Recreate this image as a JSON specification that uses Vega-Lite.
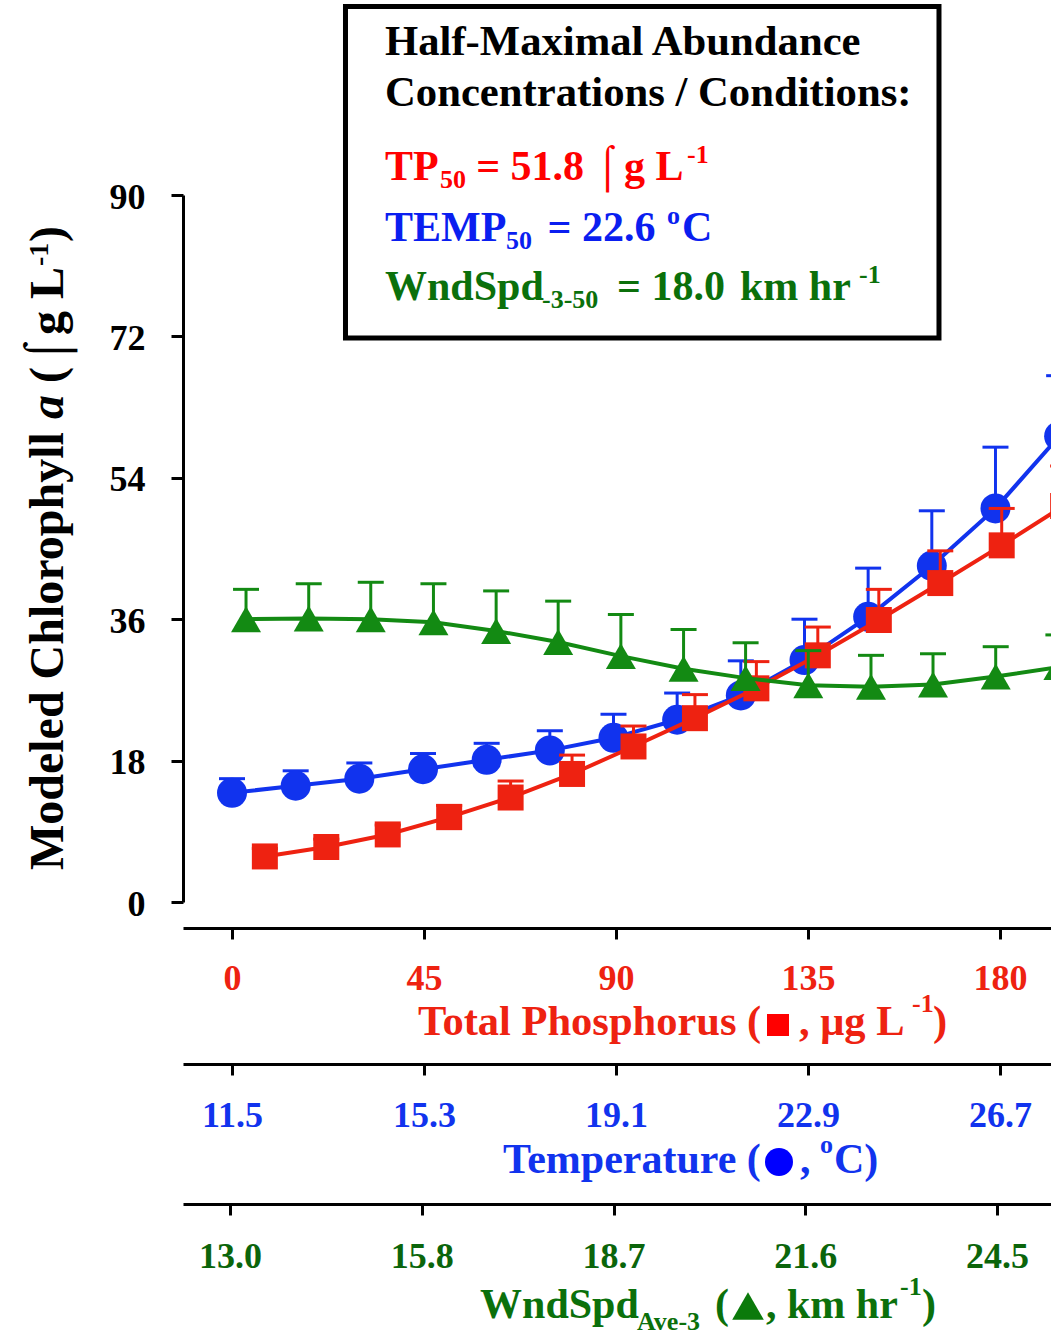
{
  "$schema": "https://vega.github.io/schema/vega-lite/v6.json",
  "width": 868,
  "height": 707,
  "autosize": {"type": "none"},
  "padding": {"left": 183, "top": 195, "right": 0, "bottom": 438},
  "background": "white",
  "config": {
    "view": {"stroke": null},
    "axis": {
      "grid": false,
      "domainColor": "black",
      "domainWidth": 3,
      "tickColor": "black",
      "tickWidth": 3,
      "labelFont": "Liberation Serif",
      "labelFontWeight": "bold",
      "labelFontSize": 36,
      "labelFlush": false,
      "labelOverlap": false
    },
    "text": {"font": "Liberation Serif", "fontWeight": "bold", "align": "left", "baseline": "alphabetic"}
  },
  "resolve": {"scale": {"x": "independent"}, "axis": {"x": "independent"}},
  "layer": [
    {
      "data": {"values": [
        {"temp": 11.50, "chl": 13.9, "upper": 15.7},
        {"temp": 12.76, "chl": 14.8, "upper": 16.7},
        {"temp": 14.02, "chl": 15.7, "upper": 17.7},
        {"temp": 15.28, "chl": 16.9, "upper": 18.9},
        {"temp": 16.54, "chl": 18.1, "upper": 20.2},
        {"temp": 17.79, "chl": 19.3, "upper": 21.8},
        {"temp": 19.05, "chl": 20.9, "upper": 23.9},
        {"temp": 20.31, "chl": 23.2, "upper": 26.6},
        {"temp": 21.57, "chl": 26.3, "upper": 30.7},
        {"temp": 22.83, "chl": 30.8, "upper": 36.0},
        {"temp": 24.09, "chl": 36.3, "upper": 42.5},
        {"temp": 25.35, "chl": 42.8, "upper": 49.8},
        {"temp": 26.61, "chl": 50.1, "upper": 57.9},
        {"temp": 27.87, "chl": 59.3, "upper": 67.0}
      ]},
      "layer": [
        {
          "mark": {"type": "line", "color": "#1133EE", "strokeWidth": 4, "clip": true},
          "encoding": {
            "x": {"field": "temp", "type": "quantitative", "title": null,
              "scale": {"domain": [10.530, 27.709], "nice": false, "zero": false},
              "axis": {"title": null, "orient": "bottom", "offset": 162, "values": [11.5, 15.3, 19.1, 22.9, 26.7], "format": ".1f",
                "labelColor": "#1133EE", "tickSize": 11, "labelPadding": 23}},
            "y": {"field": "chl", "type": "quantitative", "title": null}
          }
        },
        {
          "mark": {"type": "rule", "color": "#1133EE", "strokeWidth": 3, "clip": true},
          "encoding": {
            "x": {"field": "temp", "type": "quantitative", "title": null},
            "y": {"field": "chl", "type": "quantitative", "title": null},
            "y2": {"field": "upper"}
          }
        },
        {
          "mark": {"type": "tick", "orient": "horizontal", "color": "#1133EE", "size": 26, "thickness": 3, "clip": true, "opacity": 1},
          "encoding": {
            "x": {"field": "temp", "type": "quantitative", "title": null},
            "y": {"field": "upper", "type": "quantitative", "title": null}
          }
        },
        {
          "mark": {"type": "point", "shape": "circle", "filled": true, "size": 900, "color": "#1133EE", "opacity": 1, "clip": true},
          "encoding": {
            "x": {"field": "temp", "type": "quantitative", "title": null},
            "y": {"field": "chl", "type": "quantitative", "title": null}
          }
        }
      ]
    },
    {
      "data": {"values": [
        {"tp": 7.7, "chl": 5.8, "upper": 6.8},
        {"tp": 22.1, "chl": 7.0, "upper": 8.0},
        {"tp": 36.5, "chl": 8.6, "upper": 9.8},
        {"tp": 50.9, "chl": 10.8, "upper": 12.3},
        {"tp": 65.3, "chl": 13.3, "upper": 15.4},
        {"tp": 79.7, "chl": 16.3, "upper": 18.7},
        {"tp": 94.1, "chl": 19.8, "upper": 22.4},
        {"tp": 108.5, "chl": 23.4, "upper": 26.4},
        {"tp": 122.9, "chl": 27.2, "upper": 30.6},
        {"tp": 137.3, "chl": 31.4, "upper": 35.0},
        {"tp": 151.6, "chl": 35.9, "upper": 39.8},
        {"tp": 166.0, "chl": 40.6, "upper": 44.7},
        {"tp": 180.4, "chl": 45.4, "upper": 50.1},
        {"tp": 194.8, "chl": 50.4, "upper": 55.5}
      ]},
      "layer": [
        {
          "mark": {"type": "line", "color": "#EE2211", "strokeWidth": 4, "clip": true},
          "encoding": {
            "x": {"field": "tp", "type": "quantitative", "title": null,
              "scale": {"domain": [-11.484, 191.953], "nice": false, "zero": false},
              "axis": {"title": null, "orient": "bottom", "offset": 26, "values": [0, 45, 90, 135, 180],
                "labelColor": "#EE2211", "tickSize": 11, "labelPadding": 22}},
            "y": {"field": "chl", "type": "quantitative", "title": null,
              "scale": {"domain": [0, 90], "nice": false, "zero": false},
              "axis": {"title": null, "orient": "left", "values": [0, 18, 36, 54, 72, 90], "labelColor": "black",
                "tickSize": 12, "labelPadding": 26, "labelOffset": 2}}
          }
        },
        {
          "mark": {"type": "rule", "color": "#EE2211", "strokeWidth": 3, "clip": true},
          "encoding": {
            "x": {"field": "tp", "type": "quantitative", "title": null},
            "y": {"field": "chl", "type": "quantitative", "title": null},
            "y2": {"field": "upper"}
          }
        },
        {
          "mark": {"type": "tick", "orient": "horizontal", "color": "#EE2211", "size": 26, "thickness": 3, "clip": true, "opacity": 1},
          "encoding": {
            "x": {"field": "tp", "type": "quantitative", "title": null},
            "y": {"field": "upper", "type": "quantitative", "title": null}
          }
        },
        {
          "mark": {"type": "point", "shape": "square", "filled": true, "size": 676, "color": "#EE2211", "opacity": 1, "clip": true},
          "encoding": {
            "x": {"field": "tp", "type": "quantitative", "title": null},
            "y": {"field": "chl", "type": "quantitative", "title": null}
          }
        },
        {
          "data": {"values": [{}]},
          "mark": {"type": "rect", "fill": "white", "fillOpacity": 0, "stroke": "black", "strokeWidth": 5},
          "encoding": {"x": {"datum": 26.6, "title": null}, "x2": {"datum": 165.7}, "y": {"datum": 113.99, "title": null}, "y2": {"datum": 71.8}}
        },
        {"data": {"values": [{}]}, "mark": {"type": "text", "text": "Half-Maximal Abundance", "fontSize": 42.7, "color": "black"},
          "encoding": {"x": {"datum": 35.86, "title": null}, "y": {"datum": 107.82, "title": null}}},
        {"data": {"values": [{}]}, "mark": {"type": "text", "text": "Concentrations / Conditions:", "fontSize": 42.7, "color": "black"},
          "encoding": {"x": {"datum": 35.86, "title": null}, "y": {"datum": 101.33, "title": null}}},

        {"data": {"values": [{}]}, "mark": {"type": "text", "text": "TP", "fontSize": 42, "color": "#FF0000"},
          "encoding": {"x": {"datum": 35.86, "title": null}, "y": {"datum": 91.91, "title": null}}},
        {"data": {"values": [{}]}, "mark": {"type": "text", "text": "50", "fontSize": 26, "color": "#FF0000"},
          "encoding": {"x": {"datum": 48.75, "title": null}, "y": {"datum": 90.89, "title": null}}},
        {"data": {"values": [{}]}, "mark": {"type": "text", "text": "= 51.8", "fontSize": 42, "color": "#FF0000"},
          "encoding": {"x": {"datum": 57.23, "title": null}, "y": {"datum": 91.91, "title": null}}},
        {"data": {"values": [{}]}, "mark": {"type": "text", "text": "⌠", "fontSize": 42, "fontWeight": "normal", "color": "#FF0000"},
          "encoding": {"x": {"datum": 85.08, "title": null}, "y": {"datum": 91.91, "title": null}}},
        {"data": {"values": [{}]}, "mark": {"type": "text", "text": "g L", "fontSize": 42, "color": "#FF0000"},
          "encoding": {"x": {"datum": 91.88, "title": null}, "y": {"datum": 91.91, "title": null}}},
        {"data": {"values": [{}]}, "mark": {"type": "text", "text": "-1", "fontSize": 26, "color": "#FF0000"},
          "encoding": {"x": {"datum": 106.64, "title": null}, "y": {"datum": 94.07, "title": null}}},

        {"data": {"values": [{}]}, "mark": {"type": "text", "text": "TEMP", "fontSize": 42, "color": "#0A1EF0"},
          "encoding": {"x": {"datum": 35.86, "title": null}, "y": {"datum": 84.14, "title": null}}},
        {"data": {"values": [{}]}, "mark": {"type": "text", "text": "50", "fontSize": 26, "color": "#0A1EF0"},
          "encoding": {"x": {"datum": 64.22, "title": null}, "y": {"datum": 83.12, "title": null}}},
        {"data": {"values": [{}]}, "mark": {"type": "text", "text": "= 22.6", "fontSize": 42, "color": "#0A1EF0"},
          "encoding": {"x": {"datum": 73.95, "title": null}, "y": {"datum": 84.14, "title": null}}},
        {"data": {"values": [{}]}, "mark": {"type": "text", "text": "o", "fontSize": 26, "color": "#0A1EF0"},
          "encoding": {"x": {"datum": 101.95, "title": null}, "y": {"datum": 86.31, "title": null}}},
        {"data": {"values": [{}]}, "mark": {"type": "text", "text": "C", "fontSize": 42, "color": "#0A1EF0"},
          "encoding": {"x": {"datum": 105.47, "title": null}, "y": {"datum": 84.14, "title": null}}},

        {"data": {"values": [{}]}, "mark": {"type": "text", "text": "WndSpd", "fontSize": 42, "color": "#0B700B"},
          "encoding": {"x": {"datum": 35.86, "title": null}, "y": {"datum": 76.63, "title": null}}},
        {"data": {"values": [{}]}, "mark": {"type": "text", "text": "-3-50", "fontSize": 26, "color": "#0B700B"},
          "encoding": {"x": {"datum": 72.66, "title": null}, "y": {"datum": 75.61, "title": null}}},
        {"data": {"values": [{}]}, "mark": {"type": "text", "text": "= 18.0", "fontSize": 42, "color": "#0B700B"},
          "encoding": {"x": {"datum": 90.23, "title": null}, "y": {"datum": 76.63, "title": null}}},
        {"data": {"values": [{}]}, "mark": {"type": "text", "text": "km hr", "fontSize": 42, "color": "#0B700B"},
          "encoding": {"x": {"datum": 119.06, "title": null}, "y": {"datum": 76.63, "title": null}}},
        {"data": {"values": [{}]}, "mark": {"type": "text", "text": "-1", "fontSize": 26, "color": "#0B700B"},
          "encoding": {"x": {"datum": 146.95, "title": null}, "y": {"datum": 78.8, "title": null}}},

        {"data": {"values": [{}]}, "mark": {"type": "text", "text": "Modeled Chlorophyll", "fontSize": 48, "angle": 270, "color": "black"},
          "encoding": {"x": {"datum": -39.61, "title": null}, "y": {"datum": 4.07, "title": null}}},
        {"data": {"values": [{}]}, "mark": {"type": "text", "text": "a", "fontSize": 48, "fontStyle": "italic", "angle": 270, "color": "black"},
          "encoding": {"x": {"datum": -39.61, "title": null}, "y": {"datum": 61.48, "title": null}}},
        {"data": {"values": [{}]}, "mark": {"type": "text", "text": "(", "fontSize": 48, "angle": 270, "color": "black"},
          "encoding": {"x": {"datum": -39.61, "title": null}, "y": {"datum": 66.07, "title": null}}},
        {"data": {"values": [{}]}, "mark": {"type": "text", "text": "⌠", "fontSize": 48, "fontWeight": "normal", "angle": 270, "color": "black"},
          "encoding": {"x": {"datum": -39.61, "title": null}, "y": {"datum": 68.36, "title": null}}},
        {"data": {"values": [{}]}, "mark": {"type": "text", "text": "g L", "fontSize": 48, "angle": 270, "color": "black"},
          "encoding": {"x": {"datum": -39.61, "title": null}, "y": {"datum": 72.18, "title": null}}},
        {"data": {"values": [{}]}, "mark": {"type": "text", "text": "-1", "fontSize": 28, "angle": 270, "color": "black"},
          "encoding": {"x": {"datum": -43.13, "title": null}, "y": {"datum": 80.96, "title": null}}},
        {"data": {"values": [{}]}, "mark": {"type": "text", "text": ")", "fontSize": 48, "angle": 270, "color": "black"},
          "encoding": {"x": {"datum": -39.61, "title": null}, "y": {"datum": 84.02, "title": null}}},

        {"data": {"values": [{}]}, "mark": {"type": "text", "text": "Total Phosphorus (", "fontSize": 42.5, "color": "#EE2211"},
          "encoding": {"x": {"datum": 43.59, "title": null}, "y": {"datum": -16.93, "title": null}}},
        {"data": {"values": [{}]}, "mark": {"type": "point", "shape": "square", "filled": true, "size": 484, "color": "#FF0000", "opacity": 1},
          "encoding": {"x": {"datum": 127.97, "title": null}, "y": {"datum": -15.66, "title": null}}},
        {"data": {"values": [{}]}, "mark": {"type": "text", "text": ", μg L", "fontSize": 42.5, "color": "#EE2211"},
          "encoding": {"x": {"datum": 132.89, "title": null}, "y": {"datum": -16.93, "title": null}}},
        {"data": {"values": [{}]}, "mark": {"type": "text", "text": "-1", "fontSize": 26, "color": "#EE2211"},
          "encoding": {"x": {"datum": 159.38, "title": null}, "y": {"datum": -14.0, "title": null}}},
        {"data": {"values": [{}]}, "mark": {"type": "text", "text": ")", "fontSize": 42.5, "color": "#EE2211"},
          "encoding": {"x": {"datum": 164.3, "title": null}, "y": {"datum": -16.93, "title": null}}},

        {"data": {"values": [{}]}, "mark": {"type": "text", "text": "Temperature (", "fontSize": 42, "color": "#1133EE"},
          "encoding": {"x": {"datum": 63.52, "title": null}, "y": {"datum": -34.5, "title": null}}},
        {"data": {"values": [{}]}, "mark": {"type": "point", "shape": "circle", "filled": true, "size": 784, "color": "#0000FF", "opacity": 1},
          "encoding": {"x": {"datum": 128.2, "title": null}, "y": {"datum": -33.1, "title": null}}},
        {"data": {"values": [{}]}, "mark": {"type": "text", "text": ",", "fontSize": 42, "color": "#1133EE"},
          "encoding": {"x": {"datum": 133.13, "title": null}, "y": {"datum": -34.5, "title": null}}},
        {"data": {"values": [{}]}, "mark": {"type": "text", "text": "o", "fontSize": 26, "color": "#1133EE"},
          "encoding": {"x": {"datum": 137.81, "title": null}, "y": {"datum": -31.9, "title": null}}},
        {"data": {"values": [{}]}, "mark": {"type": "text", "text": "C)", "fontSize": 42, "color": "#1133EE"},
          "encoding": {"x": {"datum": 141.09, "title": null}, "y": {"datum": -34.5, "title": null}}},

        {"data": {"values": [{}]}, "mark": {"type": "text", "text": "WndSpd", "fontSize": 42, "color": "#0B700B"},
          "encoding": {"x": {"datum": 58.13, "title": null}, "y": {"datum": -52.96, "title": null}}},
        {"data": {"values": [{}]}, "mark": {"type": "text", "text": "Ave-3", "fontSize": 26, "color": "#0B700B"},
          "encoding": {"x": {"datum": 94.92, "title": null}, "y": {"datum": -54.48, "title": null}}},
        {"data": {"values": [{}]}, "mark": {"type": "text", "text": "(", "fontSize": 42, "color": "#0B700B"},
          "encoding": {"x": {"datum": 113.2, "title": null}, "y": {"datum": -52.96, "title": null}}},
        {"data": {"values": [{}]}, "mark": {"type": "point", "shape": "triangle-up", "filled": true, "size": 1000, "color": "#0B7A0B", "opacity": 1},
          "encoding": {"x": {"datum": 120.94, "title": null}, "y": {"datum": -51.43, "title": null}}},
        {"data": {"values": [{}]}, "mark": {"type": "text", "text": ", km hr", "fontSize": 42, "color": "#0B700B"},
          "encoding": {"x": {"datum": 125.16, "title": null}, "y": {"datum": -52.96, "title": null}}},
        {"data": {"values": [{}]}, "mark": {"type": "text", "text": "-1", "fontSize": 26, "color": "#0B700B"},
          "encoding": {"x": {"datum": 156.56, "title": null}, "y": {"datum": -50.03, "title": null}}},
        {"data": {"values": [{}]}, "mark": {"type": "text", "text": ")", "fontSize": 42, "color": "#0B700B"},
          "encoding": {"x": {"datum": 161.72, "title": null}, "y": {"datum": -52.96, "title": null}}}
      ]
    },
    {
      "data": {"values": [
        {"wind": 13.24, "chl": 36.0, "upper": 39.8},
        {"wind": 14.18, "chl": 36.1, "upper": 40.5},
        {"wind": 15.11, "chl": 36.0, "upper": 40.7},
        {"wind": 16.05, "chl": 35.6, "upper": 40.5},
        {"wind": 16.99, "chl": 34.5, "upper": 39.6},
        {"wind": 17.92, "chl": 33.1, "upper": 38.3},
        {"wind": 18.86, "chl": 31.3, "upper": 36.6},
        {"wind": 19.80, "chl": 29.7, "upper": 34.7},
        {"wind": 20.73, "chl": 28.5, "upper": 33.0},
        {"wind": 21.67, "chl": 27.6, "upper": 32.0},
        {"wind": 22.61, "chl": 27.4, "upper": 31.4},
        {"wind": 23.54, "chl": 27.7, "upper": 31.6},
        {"wind": 24.48, "chl": 28.7, "upper": 32.5},
        {"wind": 25.42, "chl": 29.9, "upper": 34.0}
      ]},
      "layer": [
        {
          "mark": {"type": "line", "color": "#138A13", "strokeWidth": 4, "clip": true},
          "encoding": {
            "x": {"field": "wind", "type": "quantitative", "title": null,
              "scale": {"domain": [12.295, 25.309], "nice": false, "zero": false},
              "axis": {"title": null, "orient": "bottom", "offset": 302, "values": [13.0, 15.875, 18.75, 21.625, 24.5],
                "labelExpr": "format(floor(datum.value * 10 + 0.0001) / 10, '.1f')",
                "labelColor": "#0B650B", "tickSize": 11, "labelPadding": 24}},
            "y": {"field": "chl", "type": "quantitative", "title": null}
          }
        },
        {
          "mark": {"type": "rule", "color": "#138A13", "strokeWidth": 3, "clip": true},
          "encoding": {
            "x": {"field": "wind", "type": "quantitative", "title": null},
            "y": {"field": "chl", "type": "quantitative", "title": null},
            "y2": {"field": "upper"}
          }
        },
        {
          "mark": {"type": "tick", "orient": "horizontal", "color": "#138A13", "size": 26, "thickness": 3, "clip": true, "opacity": 1},
          "encoding": {
            "x": {"field": "wind", "type": "quantitative", "title": null},
            "y": {"field": "upper", "type": "quantitative", "title": null}
          }
        },
        {
          "mark": {"type": "point", "shape": "triangle-up", "filled": true, "size": 900, "color": "#138A13", "opacity": 1, "clip": true},
          "encoding": {
            "x": {"field": "wind", "type": "quantitative", "title": null},
            "y": {"field": "chl", "type": "quantitative", "title": null}
          }
        }
      ]
    }
  ]
}
